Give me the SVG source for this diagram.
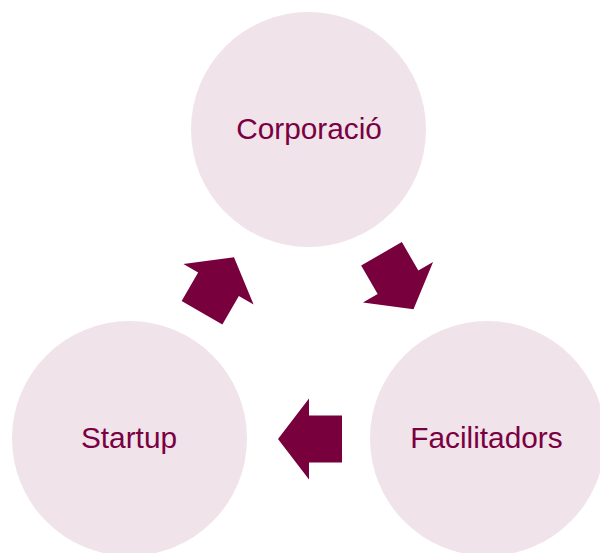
<svg xmlns="http://www.w3.org/2000/svg" width="600" height="553" viewBox="0 0 600 553">
<style>
.node circle{fill:#f0e3ea}
.node text{font-family:"Liberation Sans",Arial,sans-serif;font-size:29.8px;fill:#7a0041;text-anchor:middle}
.arrow{fill:#77003d}
</style>
<defs>
<path id="arr" d="M-32,0 L-1,-40.5 L-1,-23.5 L32,-23.5 L32,23.5 L-1,23.5 L-1,40.5 Z"/>
</defs>
<rect width="600" height="553" fill="#ffffff"/>
<g id="corporacio" class="node">
<circle cx="308.5" cy="129.5" r="117.5"/>
<text x="309" y="139">Corporació</text>
</g>
<g id="startup" class="node">
<circle cx="129.5" cy="438.5" r="117.5"/>
<text x="129" y="448">Startup</text>
</g>
<g id="facilitadors" class="node">
<circle cx="487.5" cy="438.5" r="117.5"/>
<text x="486.5" y="448">Facilitadors</text>
</g>
<g id="connectors" class="arrow">
<use href="#arr" transform="translate(218,285) rotate(120)"/>
<use href="#arr" transform="translate(397.5,281.5) rotate(-120)"/>
<use href="#arr" transform="translate(310,439)"/>
</g>
</svg>
